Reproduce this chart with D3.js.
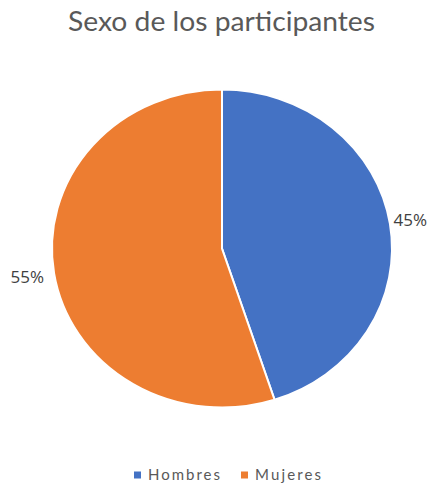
<!DOCTYPE html>
<html>
<head>
<meta charset="utf-8">
<script src="https://cdn.jsdelivr.net/npm/d3@7"></script>
<style>
  body { margin: 0; background: #fff; }
  svg { display: block; font-family: Lato, "Open Sans", sans-serif; }
</style>
</head>
<body>
<div id="chart"></div>
<script>
// chart data
const categories = ["Hombres", "Mujeres"];
const values = [45, 55];
const colors = ["#4472C4", "#ED7D31"];
const title = "Sexo de los participantes";

const width = 428;
const height = 484;
const cx = 222, cy = 248.5;
const ry = 159;          // pie radius
const sx = 170 / 159;    // the picture is stretched a bit horizontally

const svg = d3.select("#chart")
  .append("svg")
  .attr("width", width)
  .attr("height", height);

// title
svg.append("text")
  .attr("x", 221.5)
  .attr("y", 31)
  .attr("text-anchor", "middle")
  .attr("font-size", 27)
  .attr("fill", "#595959")
  .attr("textLength", 307)
  .attr("lengthAdjust", "spacingAndGlyphs")
  .text(title);

const total = d3.sum(values);
const pie = d3.pie().sort(null).value(d => d)(values);
const arc = d3.arc().innerRadius(0).outerRadius(ry);

// slices
const g = svg.append("g")
  .attr("transform", `translate(${cx},${cy}) scale(${sx},1)`);

g.selectAll("path")
  .data(pie)
  .join("path")
  .attr("d", arc)
  .attr("fill", (d, i) => colors[i])
  .attr("stroke", "#fff")
  .attr("stroke-width", 2)
  .attr("vector-effect", "non-scaling-stroke");

// percentage labels outside the pie, kept inside the chart area
const gap = 10;
const midAngle = d => (d.startAngle + d.endAngle) / 2;
svg.selectAll("text.pct")
  .data(pie)
  .join("text")
  .attr("class", "pct")
  .attr("y", d => cy - Math.cos(midAngle(d)) * (ry + 22))
  .attr("dy", "0.35em")
  .attr("text-anchor", "start")
  .attr("font-family", "'Open Sans', sans-serif")
  .attr("font-size", 17)
  .attr("fill", "#404040")
  .text(d => Math.round(d.data / total * 100) + "%")
  .attr("x", function(d) {
    const a = midAngle(d);
    const w = this.getComputedTextLength();
    const edge = cx + Math.sin(a) * ry * sx;
    let x = Math.sin(a) >= 0 ? edge + gap : edge - gap - w;
    return Math.max(1, Math.min(width - 1 - w, x));
  });

// legend
const legendX = d3.scaleOrdinal().domain(categories).range([134, 241]);
const legend = svg.append("g").attr("transform", "translate(0,475)");
const item = legend.selectAll("g")
  .data(categories)
  .join("g")
  .attr("transform", d => `translate(${legendX(d)},0)`);

item.append("rect")
  .attr("x", 0)
  .attr("y", -3.5)
  .attr("width", 7)
  .attr("height", 7)
  .attr("fill", (d, i) => colors[i]);

item.append("text")
  .attr("x", 14)
  .attr("dy", "0.36em")
  .attr("font-size", 15)
  .attr("fill", "#595959")
  .attr("textLength", (d, i) => [72, 66][i])
  .attr("lengthAdjust", "spacing")
  .text(d => d);
</script>
</body>
</html>
